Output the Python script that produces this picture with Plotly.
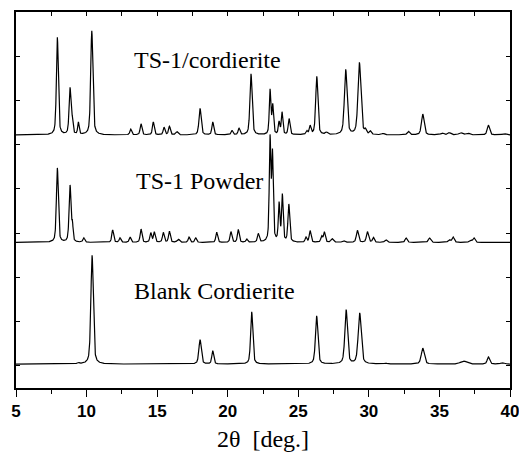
import numpy as np
import plotly.graph_objects as go

# ---- data (peak position [deg], height [a.u.], FWHM [deg]) ----
blank_base = 0.54
blank_pos = [9.4, 10.39, 18.04, 18.94, 21.70, 26.30, 28.39, 29.35, 31.2, 33.82, 36.70, 38.47, 39.45]
blank_h   = [0.03, 2.46, 0.55, 0.30, 1.18, 1.09, 1.22, 1.15, 0.02, 0.36, 0.07, 0.16, 0.03]
blank_w   = [0.15, 0.20, 0.20, 0.16, 0.18, 0.20, 0.22, 0.25, 0.20, 0.25, 0.50, 0.20, 0.30]

powder_base = 3.29
powder_pos = [7.93, 8.83, 9.00, 9.80, 11.85, 12.37, 13.08, 13.86, 14.55, 14.80, 15.44, 15.87,
              16.50, 17.26, 17.73, 19.22, 20.23, 20.75, 21.35, 22.17, 23.00, 23.17, 23.64,
              23.87, 24.33, 25.55, 25.84, 26.66, 26.85, 27.40, 28.20, 29.19, 29.90, 30.32,
              31.20, 32.64, 34.30, 35.70, 35.97, 37.20, 37.45]
powder_h   = [1.68, 1.28, 0.35, 0.10, 0.28, 0.10, 0.12, 0.30, 0.21, 0.23, 0.22, 0.25,
              0.07, 0.12, 0.10, 0.23, 0.24, 0.29, 0.07, 0.19, 2.30, 1.95, 0.85,
              1.05, 0.85, 0.11, 0.26, 0.13, 0.23, 0.08, 0.04, 0.27, 0.24, 0.11,
              0.06, 0.10, 0.10, 0.06, 0.12, 0.05, 0.10]
powder_w   = [0.16, 0.16, 0.10, 0.15, 0.15, 0.15, 0.15, 0.15, 0.15, 0.15, 0.15, 0.15,
              0.20, 0.15, 0.15, 0.15, 0.15, 0.15, 0.15, 0.15, 0.13, 0.13, 0.13,
              0.13, 0.15, 0.15, 0.15, 0.15, 0.15, 0.20, 0.20, 0.18, 0.18, 0.15,
              0.20, 0.18, 0.20, 0.20, 0.18, 0.20, 0.18]

ts1c_base = 5.72
ts1c_pos = [7.93, 8.83, 8.99, 9.42, 10.37, 13.13, 13.86, 14.73, 15.49, 15.87, 16.40, 18.04,
            18.94, 20.30, 20.80, 21.65, 23.00, 23.19, 23.64, 23.85, 24.35, 25.60, 25.84,
            26.31, 27.00, 28.36, 29.33, 29.75, 30.10, 31.00, 32.80, 33.82, 35.20, 35.70,
            36.50, 37.00, 38.47, 39.60]
ts1c_h   = [2.20, 1.05, 0.28, 0.27, 2.35, 0.13, 0.25, 0.29, 0.17, 0.19, 0.07, 0.60,
            0.29, 0.10, 0.15, 1.38, 1.00, 0.65, 0.28, 0.50, 0.36, 0.08, 0.19,
            1.32, 0.05, 1.47, 1.63, 0.09, 0.07, 0.03, 0.08, 0.47, 0.04, 0.05,
            0.05, 0.04, 0.22, 0.03]
ts1c_w   = [0.16, 0.16, 0.10, 0.12, 0.18, 0.15, 0.15, 0.15, 0.15, 0.15, 0.20, 0.18,
            0.15, 0.15, 0.15, 0.18, 0.13, 0.13, 0.13, 0.13, 0.15, 0.15, 0.15,
            0.18, 0.20, 0.22, 0.24, 0.15, 0.15, 0.20, 0.20, 0.22, 0.25, 0.25,
            0.30, 0.30, 0.20, 0.30]

labels = ["TS-1/cordierite", "TS-1 Powder", "Blank Cordierite"]
label_x = [13.25, 13.35, 13.25]
label_y = [7.41, 4.68, 2.19]

x_ticks = [5, 10, 15, 20, 25, 30, 35, 40]

# ---- build profiles from the peak tables ----
theta = np.linspace(5, 40, 3501)


def profile(base, pos, h, w, eta=0.5):
    y = np.full_like(theta, base)
    for c, a, fw in zip(pos, h, w):
        g = np.exp(-4 * np.log(2) * ((theta - c) / fw) ** 2)
        l = 1.0 / (1.0 + 4 * ((theta - c) / fw) ** 2)
        y += a * (eta * l + (1 - eta) * g)
    return y


series = [
    profile(ts1c_base, ts1c_pos, ts1c_h, ts1c_w),
    profile(powder_base, powder_pos, powder_h, powder_w),
    profile(blank_base, blank_pos, blank_h, blank_w),
]

fig = go.Figure()
for ys in series:
    fig.add_trace(go.Scatter(x=theta, y=ys, mode="lines",
                             line=dict(color="black", width=1.2),
                             showlegend=False, hoverinfo="skip"))
# invisible trace carrying the top axis
fig.add_trace(go.Scatter(x=[5, 40], y=[0, 0], xaxis="x2", mode="lines",
                         line=dict(width=0), showlegend=False, hoverinfo="skip"))

for t, xx, yy in zip(labels, label_x, label_y):
    fig.add_annotation(x=xx, y=yy, text=t, showarrow=False, xanchor="left", yanchor="middle",
                       font=dict(family="Liberation Serif", size=24, color="black"))

fig.update_layout(
    width=519, height=455,
    margin=dict(l=16, r=9, t=12, b=67, autoexpand=False),
    paper_bgcolor="white", plot_bgcolor="white",
    xaxis=dict(range=[5, 40], tickvals=x_ticks, ticktext=["<b>%d</b>" % v for v in x_ticks],
               automargin=False, ticklabeloverflow="allow",
               ticks="outside", ticklen=7, tickwidth=1.3, tickcolor="black",
               minor=dict(dtick=2.5, ticks="outside", ticklen=4, tickwidth=1.3, tickcolor="black"),
               showline=True, linecolor="black", linewidth=1.5, showgrid=False, zeroline=False,
               tickfont=dict(family="Liberation Sans", size=17, color="black"),
               title=dict(text="2θ  [deg.]", font=dict(family="Liberation Serif", size=24, color="black"),
                          standoff=10)),
    xaxis2=dict(range=[5, 40], overlaying="x", side="top", matches="x", dtick=2.5, tick0=5,
                ticks="inside", ticklen=4, tickwidth=1.3, tickcolor="black", automargin=False,
                showticklabels=False, showline=True, linecolor="black", linewidth=1.5,
                showgrid=False, zeroline=False),
    yaxis=dict(range=[0, 8.5], tick0=0.5, dtick=1, ticks="inside", ticklen=4, tickwidth=1.3,
               tickcolor="black", showticklabels=False, showline=True, linecolor="black",
               linewidth=1.5, mirror="ticks", showgrid=False, zeroline=False, automargin=False),
)

fig.write_html("out.html")
